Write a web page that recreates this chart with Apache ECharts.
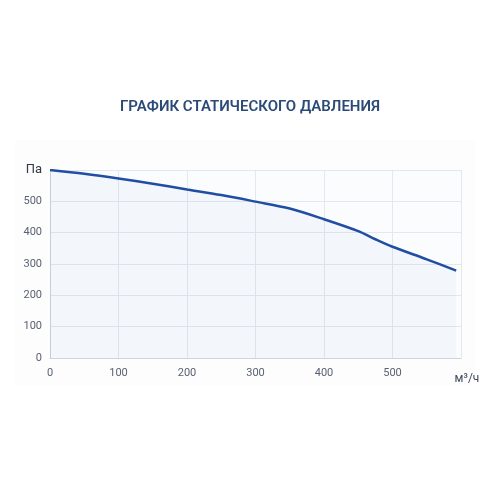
<!DOCTYPE html>
<html><head><meta charset="utf-8">
<script src="https://cdn.jsdelivr.net/npm/echarts@6/dist/echarts.min.js"></script>
<style>html,body{margin:0;padding:0;background:#fff}#c{width:500px;height:500px}</style>
</head><body><div id="c"></div>
<script>
const flow = [0, 50, 100, 150, 200, 250, 300, 350, 400, 450, 475, 500, 550, 593];
const pressure = [600, 588, 573, 556, 538, 520, 499, 477, 443, 405, 379, 355, 315, 279];
const xUnit = 'м³/ч';
const yUnit = 'Па';
const titleText = 'ГРАФИК СТАТИЧЕСКОГО ДАВЛЕНИЯ';

const chart = echarts.init(document.getElementById('c'));
chart.setOption({
  backgroundColor: '#fff',
  animation: false,
  graphic: [{
    type: 'rect', left: 15, top: 140, z: -10,
    shape: { width: 460, height: 245 },
    style: { fill: '#fdfdfe' }
  }],
  title: {
    text: titleText, left: 'center', top: 95,
    textStyle: { fontFamily: 'Roboto', fontSize: 15, fontWeight: 600, color: '#2b4a78' }
  },
  grid: { left: 50, right: 39, top: 170, bottom: 142, show: true, backgroundColor: '#fbfcfe', borderWidth: 0 },
  xAxis: {
    type: 'value', min: 0, max: 600, interval: 100,
    axisLine: { show: true, lineStyle: { color: '#ccd3dd' } },
    axisTick: { show: false },
    splitLine: { show: true, lineStyle: { color: '#e3e7ef' } },
    axisLabel: {
      margin: 10, color: '#5a6170', fontFamily: 'Roboto', fontSize: 11,
      formatter: v => v === 600 ? '{u|' + xUnit + '}' : String(v),
      rich: { u: { fontFamily: 'Roboto', fontSize: 12, color: '#3f4a5c', padding: [5, 0, 0, 12] } }
    }
  },
  yAxis: {
    type: 'value', min: 0, max: 600, interval: 100,
    axisLine: { show: true, lineStyle: { color: '#ccd3dd' } },
    axisTick: { show: false },
    splitLine: { show: true, lineStyle: { color: '#e3e7ef' } },
    axisLabel: {
      margin: 8, color: '#5a6170', fontFamily: 'Roboto', fontSize: 11,
      formatter: v => v === 600 ? '{u|' + yUnit + '}' : String(v),
      rich: { u: { fontFamily: 'Roboto', fontSize: 13, color: '#333a46' } }
    }
  },
  series: [{
    type: 'line', smooth: 0.3, symbol: 'none',
    data: flow.map((x, i) => [x, pressure[i]]),
    lineStyle: { color: '#1f4ea3', width: 2.5 },
    areaStyle: { color: 'rgba(40,90,180,0.05)' }
  }]
});
</script></body></html>
